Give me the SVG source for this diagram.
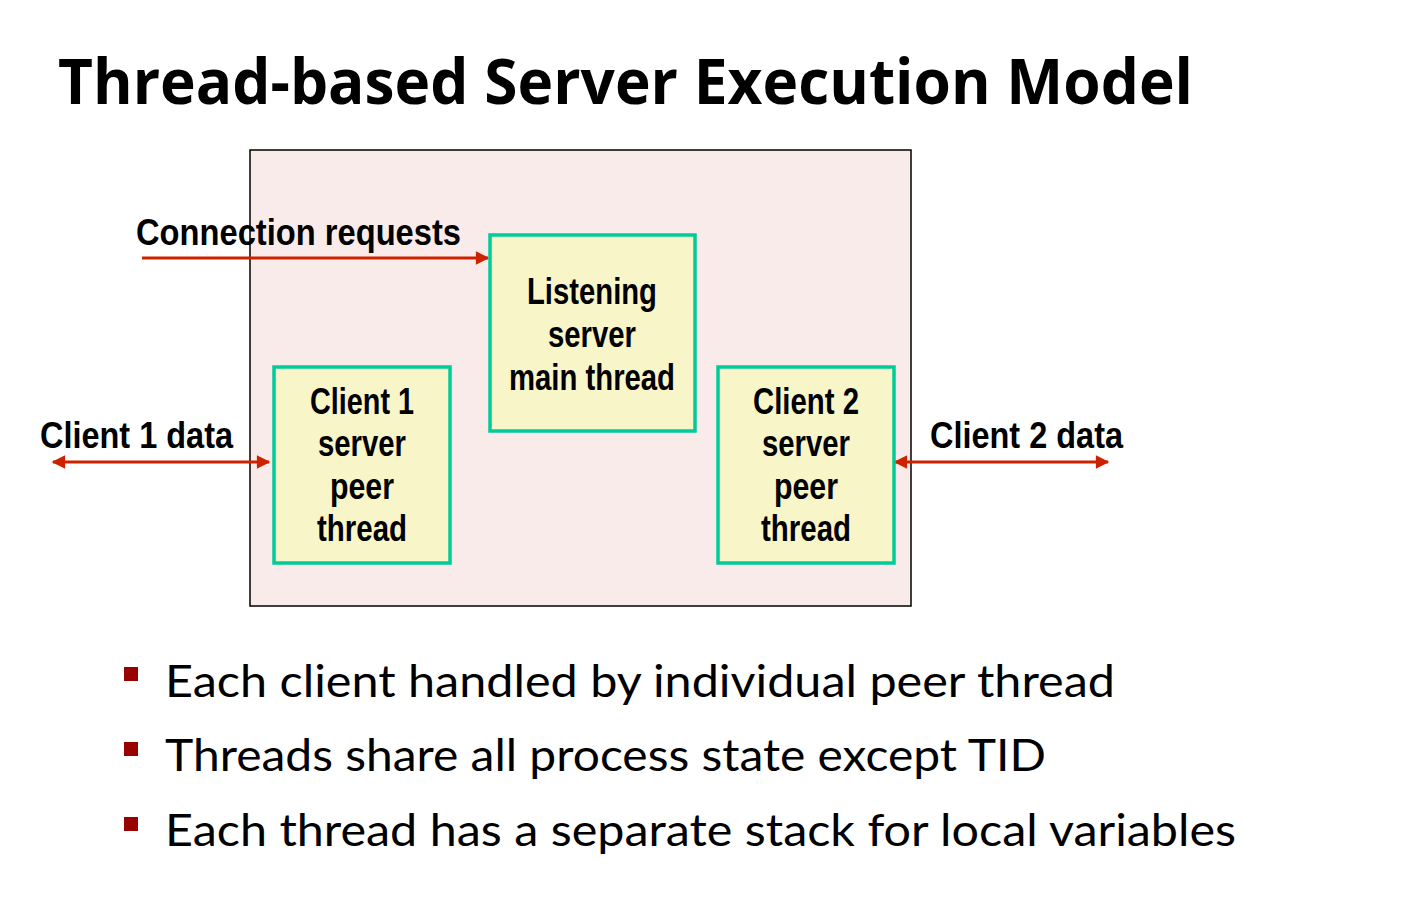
<svg xmlns="http://www.w3.org/2000/svg" width="1402" height="909" viewBox="0 0 1402 909">
<defs>
<marker id="ah" viewBox="0 0 10 10" refX="9" refY="5" markerWidth="5" markerHeight="4.5" orient="auto-start-reverse" markerUnits="strokeWidth">
<path d="M0,0 L10,5 L0,10 z" fill="#CC2200"/>
</marker>
<style>
.title{font-family:"Open Sans","Lato","Liberation Sans",sans-serif;font-weight:bold;font-size:62px;fill:#000}
.lbl{font-family:"Liberation Sans Narrow","Liberation Sans",sans-serif;font-weight:bold;font-size:37px;fill:#000}
.box{fill:#F8F5C8;stroke:#00CC99;stroke-width:3.5}
.bul{font-family:"Lato","Open Sans","Liberation Sans",sans-serif;font-size:45px;fill:#000}
.sq{fill:#990000}
.conn{stroke:#CC2200;stroke-width:3;fill:none}
</style>
</defs>
<rect width="1402" height="909" fill="#fff"/>
<text class="title" x="58" y="104" textLength="1135" lengthAdjust="spacingAndGlyphs">Thread-based Server Execution Model</text>
<g id="process">
<rect x="250" y="150" width="661" height="456" fill="#FAEBEB" stroke="#000" stroke-width="1.5"/>
</g>
<g id="connectors">
<line class="conn" x1="142" y1="258" x2="488" y2="258" marker-end="url(#ah)"/>
<line class="conn" x1="53" y1="462" x2="269" y2="462" marker-start="url(#ah)" marker-end="url(#ah)"/>
<line class="conn" x1="895" y1="462" x2="1108" y2="462" marker-start="url(#ah)" marker-end="url(#ah)"/>
</g>
<g id="labels">
<text class="lbl" x="136" y="245" textLength="325" lengthAdjust="spacingAndGlyphs">Connection requests</text>
<text class="lbl" x="40" y="448" textLength="193" lengthAdjust="spacingAndGlyphs">Client 1 data</text>
<text class="lbl" x="930" y="448" textLength="193" lengthAdjust="spacingAndGlyphs">Client 2 data</text>
</g>
<g id="listening">
<rect class="box" x="490" y="235" width="205" height="196"/>
<text class="lbl" x="592" y="304" text-anchor="middle" textLength="130" lengthAdjust="spacingAndGlyphs">Listening</text>
<text class="lbl" x="592" y="347" text-anchor="middle" textLength="88" lengthAdjust="spacingAndGlyphs">server</text>
<text class="lbl" x="592" y="390" text-anchor="middle" textLength="166" lengthAdjust="spacingAndGlyphs">main thread</text>
</g>
<g id="client1">
<rect class="box" x="274" y="367" width="176" height="196"/>
<text class="lbl" x="362" y="414" text-anchor="middle" textLength="104" lengthAdjust="spacingAndGlyphs">Client 1</text>
<text class="lbl" x="362" y="456" text-anchor="middle" textLength="88" lengthAdjust="spacingAndGlyphs">server</text>
<text class="lbl" x="362" y="499" text-anchor="middle" textLength="64" lengthAdjust="spacingAndGlyphs">peer</text>
<text class="lbl" x="362" y="541" text-anchor="middle" textLength="90" lengthAdjust="spacingAndGlyphs">thread</text>
</g>
<g id="client2">
<rect class="box" x="718" y="367" width="176" height="196"/>
<text class="lbl" x="806" y="414" text-anchor="middle" textLength="106" lengthAdjust="spacingAndGlyphs">Client 2</text>
<text class="lbl" x="806" y="456" text-anchor="middle" textLength="88" lengthAdjust="spacingAndGlyphs">server</text>
<text class="lbl" x="806" y="499" text-anchor="middle" textLength="64" lengthAdjust="spacingAndGlyphs">peer</text>
<text class="lbl" x="806" y="541" text-anchor="middle" textLength="90" lengthAdjust="spacingAndGlyphs">thread</text>
</g>
<g id="bullets">
<rect class="sq" x="124" y="667" width="14" height="14"/>
<text class="bul" x="165" y="697" textLength="950" lengthAdjust="spacingAndGlyphs">Each client handled by individual peer thread</text>
<rect class="sq" x="124" y="742" width="14" height="14"/>
<text class="bul" x="165" y="771" textLength="881" lengthAdjust="spacingAndGlyphs">Threads share all process state except TID</text>
<rect class="sq" x="124" y="817" width="14" height="14"/>
<text class="bul" x="165" y="846" textLength="1071" lengthAdjust="spacingAndGlyphs">Each thread has a separate stack for local variables</text>
</g>
</svg>
